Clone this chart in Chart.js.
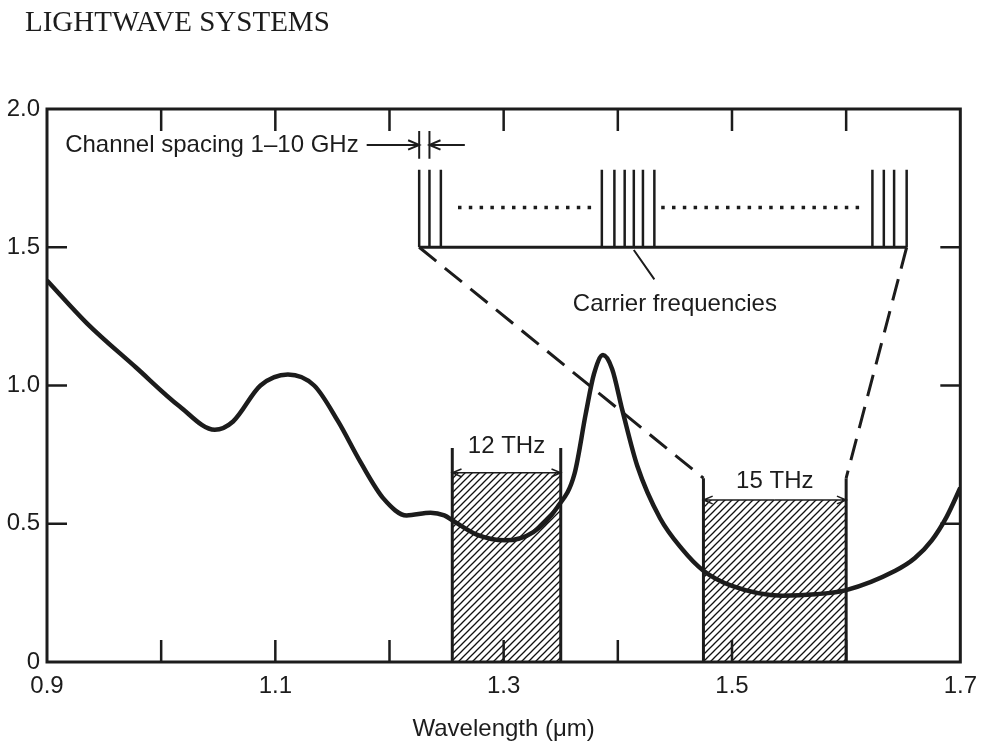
<!DOCTYPE html>
<html>
<head>
<meta charset="utf-8">
<title>Lightwave systems</title>
<script src="https://cdn.jsdelivr.net/npm/chart.js@4.4.0/dist/chart.umd.min.js"></script>
<style>
  html, body { margin: 0; padding: 0; background: #fff; }
  canvas { display: block; }
</style>
</head>
<body>
<canvas id="lossChart" width="987" height="744"></canvas>
<script>
// fibre loss (dB/km) against wavelength (um)
const lossWl = [0.900, 0.935, 0.978, 1.016, 1.047, 1.063, 1.087, 1.111, 1.134, 1.155,
                1.175, 1.195, 1.215, 1.236, 1.248, 1.256, 1.277, 1.301, 1.326, 1.347,
                1.362, 1.372, 1.379, 1.387, 1.395, 1.404, 1.417, 1.437, 1.456, 1.475,
                1.500, 1.544, 1.573, 1.600, 1.643, 1.660, 1.675, 1.688, 1.700];
const lossDb = [1.38, 1.225, 1.065, 0.925, 0.84, 0.87, 1.00, 1.04, 1.00, 0.87,
                0.72, 0.59, 0.53, 0.54, 0.53, 0.51, 0.46, 0.44, 0.47, 0.56,
                0.68, 0.90, 1.04, 1.11, 1.06, 0.91, 0.71, 0.52, 0.41, 0.33,
                0.275, 0.24, 0.245, 0.26, 0.33, 0.375, 0.44, 0.525, 0.63];

// low-loss windows (hatched)
const windowLo = [1.255, 1.475];
const windowHi = [1.350, 1.600];
const windowTop = [0.684, 0.586];
const windowEdgeTop = [0.774, 0.665];
const windowLabels = ['12 THz', '15 THz'];

// carrier comb sketched above the curve
const carrierWl = [1.226, 1.235, 1.245,
                   1.386, 1.397, 1.406, 1.414, 1.422, 1.432,
                   1.623, 1.633, 1.642, 1.653];
const carrierBase = 1.5;
const carrierTop = 1.78;
const dotRows = [[1.260, 1.379], [1.438, 1.612]];
const dotLevel = 1.644;

const ink = '#1c1c1c';
const sans = '"Liberation Sans", Arial, sans-serif';
const serif = '"Liberation Serif", "DejaVu Serif", serif';

function pts(xs, ys) {
  return xs.map((x, i) => ({ x: x, y: ys[i] }));
}

// list of [x1, y1, x2, y2] -> one polyline broken between segments
function segs(list) {
  const out = [];
  list.forEach(s => {
    out.push({ x: s[0], y: s[1] }, { x: s[2], y: s[3] }, { x: s[2], y: null });
  });
  return out;
}

function hatch() {
  const c = document.createElement('canvas');
  c.width = 7; c.height = 7;
  const g = c.getContext('2d');
  g.strokeStyle = '#111';
  g.lineWidth = 1.3;
  g.beginPath();
  g.moveTo(0, 7); g.lineTo(7, 0);
  g.moveTo(-1, 1); g.lineTo(1, -1);
  g.moveTo(6, 8); g.lineTo(8, 6);
  g.stroke();
  return g.createPattern(c, 'repeat');
}

const hatchFill = hatch();

const windowSets = windowLo.map((lo, i) => ({
  data: [{ x: lo, y: 0 }, { x: lo, y: windowTop[i] }, { x: windowHi[i], y: windowTop[i] }, { x: windowHi[i], y: 0 }],
  showLine: true,
  borderWidth: 0,
  borderColor: 'rgba(0,0,0,0)',
  backgroundColor: hatchFill,
  fill: 'origin',
  order: 9
}));

const windowEdges = segs(windowLo.flatMap((lo, i) => [
  [lo, 0, lo, windowEdgeTop[i]],
  [windowHi[i], 0, windowHi[i], windowEdgeTop[i]]
]));

const carrierLines = segs(carrierWl.map(w => [w, carrierBase, w, carrierTop]));
const lastCarrier = carrierWl[carrierWl.length - 1];

function arrow(ctx, x1, y1, x2, y2, size) {
  const a = Math.atan2(y2 - y1, x2 - x1);
  ctx.beginPath();
  ctx.moveTo(x1, y1);
  ctx.lineTo(x2, y2);
  ctx.moveTo(x2 - size * Math.cos(a - 0.4), y2 - size * Math.sin(a - 0.4));
  ctx.lineTo(x2, y2);
  ctx.lineTo(x2 - size * Math.cos(a + 0.4), y2 - size * Math.sin(a + 0.4));
  ctx.stroke();
}

const frameAndNotes = {
  id: 'frameAndNotes',
  afterDatasetsDraw(chart) {
    const { ctx, chartArea: a } = chart;
    const sx = chart.scales.x, sy = chart.scales.y;
    const px = v => sx.getPixelForValue(v);
    const py = v => sy.getPixelForValue(v);
    ctx.save();
    ctx.strokeStyle = ink;
    ctx.fillStyle = ink;
    ctx.lineCap = 'butt';

    // running head
    ctx.font = '29px ' + serif;
    ctx.textAlign = 'left';
    ctx.textBaseline = 'middle';
    ctx.fillText('LIGHTWAVE SYSTEMS', 25, 23);

    // frame and inward tick marks
    ctx.lineWidth = 3;
    ctx.strokeRect(a.left, a.top, a.right - a.left, a.bottom - a.top);
    ctx.lineWidth = 2.5;
    ctx.beginPath();
    sx.ticks.forEach(t => {
      const X = px(t.value);
      if (X <= a.left + 2 || X >= a.right - 2) return;
      ctx.moveTo(X, a.bottom); ctx.lineTo(X, a.bottom - 22);
      ctx.moveTo(X, a.top); ctx.lineTo(X, a.top + 22);
    });
    sy.ticks.forEach(t => {
      const Y = py(t.value);
      if (Y >= a.bottom - 2 || Y <= a.top + 2) return;
      ctx.moveTo(a.left, Y); ctx.lineTo(a.left + 20, Y);
      ctx.moveTo(a.right, Y); ctx.lineTo(a.right - 20, Y);
    });
    ctx.stroke();

    // channel spacing arrows
    ctx.lineWidth = 2;
    arrow(ctx, px(1.180), py(1.87), px(carrierWl[0]), py(1.87), 12);
    arrow(ctx, px(1.266), py(1.87), px(carrierWl[1]), py(1.87), 12);

    // bandwidth arrows across each window
    ctx.lineWidth = 1.5;
    windowLo.forEach((lo, i) => {
      const mid = (lo + windowHi[i]) / 2;
      arrow(ctx, px(mid), py(windowTop[i]), px(lo), py(windowTop[i]), 10);
      arrow(ctx, px(mid), py(windowTop[i]), px(windowHi[i]), py(windowTop[i]), 10);
    });

    // text
    ctx.font = '24px ' + sans;
    ctx.textBaseline = 'middle';
    ctx.textAlign = 'right';
    ctx.fillText('Channel spacing 1\u201310 GHz', px(1.173), py(1.87));
    ctx.textAlign = 'center';
    ctx.fillText('Carrier frequencies', px(1.450), py(1.295));
    const labelY = [0.78, 0.655];
    windowLabels.forEach((txt, i) => {
      ctx.fillText(txt, px((windowLo[i] + windowHi[i]) / 2), py(labelY[i]));
    });
    ctx.restore();
  }
};

new Chart(document.getElementById('lossChart'), {
  type: 'scatter',
  data: {
    datasets: [
      {
        // attenuation curve
        data: pts(lossWl, lossDb),
        showLine: true,
        borderWidth: 4.5,
        cubicInterpolationMode: 'monotone',
        order: 0
      },
      ...windowSets,
      {
        data: windowEdges,
        showLine: true,
        borderWidth: 3,
        order: 1
      },
      {
        // zoom-out lines from the comb down to the 15 THz window
        data: segs([
          [carrierWl[0], carrierBase, windowLo[1], windowEdgeTop[1]],
          [lastCarrier, carrierBase, windowHi[1], windowEdgeTop[1]]
        ]),
        showLine: true,
        borderWidth: 3,
        borderDash: [22, 11],
        order: 2
      },
      {
        data: carrierLines,
        showLine: true,
        borderWidth: 2.5,
        order: 3
      },
      {
        data: [{ x: carrierWl[0], y: carrierBase }, { x: lastCarrier, y: carrierBase }],
        showLine: true,
        borderWidth: 3,
        order: 3
      },
      {
        data: segs(dotRows.map(r => [r[0], dotLevel, r[1], dotLevel])),
        showLine: true,
        borderWidth: 3.5,
        borderDash: [3.5, 7.3],
        order: 3
      },
      {
        // channel spacing markers and carrier leader line
        data: segs([
          [carrierWl[0], 1.82, carrierWl[0], 1.92],
          [carrierWl[1], 1.82, carrierWl[1], 1.92],
          [1.414, 1.49, 1.432, 1.384]
        ]),
        showLine: true,
        borderWidth: 2,
        order: 3
      }
    ]
  },
  options: {
    responsive: false,
    animation: false,
    devicePixelRatio: 1,
    layout: { padding: { left: 0, right: 21, top: 109, bottom: 0 } },
    elements: {
      point: { radius: 0, hoverRadius: 0 },
      line: { borderColor: ink, fill: false }
    },
    plugins: {
      legend: { display: false },
      tooltip: { enabled: false },
      title: { display: false }
    },
    scales: {
      x: {
        type: 'linear',
        min: 0.9,
        max: 1.7,
        grid: { display: false, drawTicks: false },
        border: { display: false },
        ticks: {
          stepSize: 0.1,
          autoSkip: false,
          maxRotation: 0,
          padding: 10,
          color: ink,
          font: { family: sans, size: 24 },
          callback: v => (Math.round(v * 10) % 2 ? v.toFixed(1) : '')
        },
        title: {
          display: true,
          text: 'Wavelength (\u03bcm)',
          color: ink,
          font: { family: sans, size: 24 },
          padding: { top: 0, bottom: 0 }
        },
        afterFit(scale) { scale.height = 82; }
      },
      y: {
        min: 0,
        max: 2,
        grid: { display: false, drawTicks: false },
        border: { display: false },
        ticks: {
          stepSize: 0.5,
          padding: 7,
          color: ink,
          font: { family: sans, size: 24 },
          callback: v => (v === 0 ? '0' : v.toFixed(1))
        },
        afterFit(scale) { scale.width = 47; }
      }
    }
  },
  plugins: [frameAndNotes]
});
</script>
</body>
</html>
